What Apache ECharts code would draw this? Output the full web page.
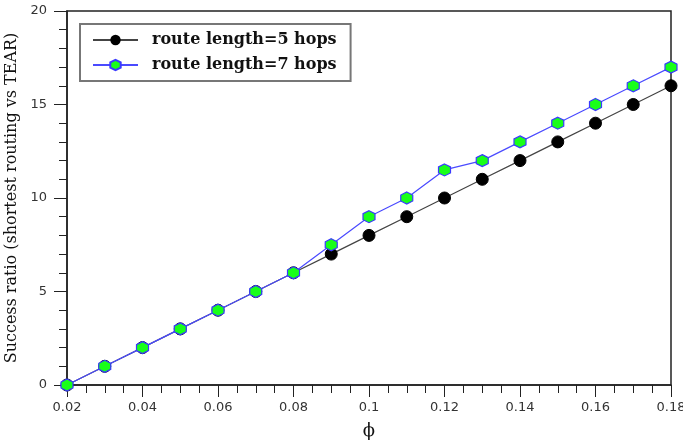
<!DOCTYPE html>
<html>
<head>
<meta charset="utf-8">
<script src="https://cdn.jsdelivr.net/npm/echarts@6/dist/echarts.min.js"></script>
<style>
    html, body {margin: 0; padding: 0; background: #fff;}
    #chart {width: 683px; height: 440px;}
</style>
</head>
<body>
<div id="chart"></div>
<script>
// values
let phi = [0.02, 0.03, 0.04, 0.05, 0.06, 0.07, 0.08, 0.09, 0.10, 0.11, 0.12, 0.13, 0.14, 0.15, 0.16, 0.17, 0.18];
let hops5 = [0, 1, 2, 3, 4, 5, 6, 7, 8, 9, 10, 11, 12, 13, 14, 15, 16];
let hops7 = [0, 1, 2, 3, 4, 5, 6, 7.5, 9, 10, 11.5, 12, 13, 14, 15, 16, 17];
let xTicks = [0.02, 0.04, 0.06, 0.08, 0.1, 0.12, 0.14, 0.16, 0.18];
let yTicks = [0, 5, 10, 15, 20];

const HEX = 'path://M0,-10 L8.66,-5 L8.66,5 L0,10 L-8.66,5 L-8.66,-5 Z';

function pairs(xs, ys) {
    return xs.map(function (x, i) {
        return [x, ys[i]];
    });
}

let myChart = echarts.init(document.getElementById('chart'), null, {renderer: 'canvas'});

let tickFont = {fontFamily: 'DejaVu Sans', fontSize: 13, color: '#333'};

let option = {
    animation: false,
    grid: {
        left: 67, right: 12, top: 11, bottom: 55,
        show: true, borderColor: '#222', borderWidth: 1.5,
        containLabel: false,
        outerBoundsMode: 'none'
    },
    legend: {
        left: 80, top: 24,
        orient: 'vertical',
        itemWidth: 45, itemHeight: 13, itemGap: 9,
        padding: [8, 14, 8, 12],
        borderColor: '#777', borderWidth: 2,
        textStyle: {
            fontFamily: 'DejaVu Serif', fontWeight: 'bold', fontSize: 16, color: '#111',
            padding: [0, 0, 0, 9]
        },
        data: ['route length=5 hops', 'route length=7 hops']
    },
    xAxis: {
        type: 'value',
        min: 0.02, max: 0.18, interval: 0.02,
        name: 'ϕ', nameLocation: 'middle', nameGap: 37,
        nameTextStyle: {fontFamily: 'DejaVu Serif', fontSize: 18, color: '#111'},
        axisLine: {lineStyle: {color: '#222', width: 1.5}},
        axisTick: {inside: false, length: 12, lineStyle: {color: '#222'}},
        minorTick: {show: true, splitNumber: 4, length: 8, lineStyle: {color: '#222'}},
        splitLine: {show: false},
        axisLabel: Object.assign({
            margin: 16,
            formatter: function (v) {
                return xTicks.indexOf(+v.toFixed(2)) >= 0 ? String(+v.toFixed(2)) : '';
            }
        }, tickFont)
    },
    yAxis: {
        type: 'value',
        min: 0, max: 20, interval: 5,
        name: 'Success ratio (shortest routing vs TEAR)', nameLocation: 'middle', nameGap: 45,
        nameTextStyle: {fontFamily: 'DejaVu Serif', fontSize: 16, color: '#111'},
        axisLine: {show: true, lineStyle: {color: '#222', width: 1.5}},
        axisTick: {show: true, inside: false, length: 13, lineStyle: {color: '#222'}},
        minorTick: {show: true, splitNumber: 5, length: 8, lineStyle: {color: '#222'}},
        splitLine: {show: false},
        axisLabel: Object.assign({
            margin: 20,
            formatter: function (v) {
                return yTicks.indexOf(v) >= 0 ? String(v) : '';
            }
        }, tickFont)
    },
    series: [
        {
            name: 'route length=5 hops',
            type: 'line',
            data: pairs(phi, hops5),
            symbol: 'circle', symbolSize: 12,
            lineStyle: {color: '#444', width: 1.2},
            itemStyle: {color: '#000', borderColor: '#000'},
            z: 2
        },
        {
            name: 'route length=7 hops',
            type: 'line',
            data: pairs(phi, hops7),
            symbol: HEX, symbolSize: 12,
            lineStyle: {color: '#4a4aff', width: 1.2},
            itemStyle: {color: '#19ff19', borderColor: '#3a3aff', borderWidth: 1.2},
            z: 3
        }
    ]
};

myChart.setOption(option);
</script>
</body>
</html>
